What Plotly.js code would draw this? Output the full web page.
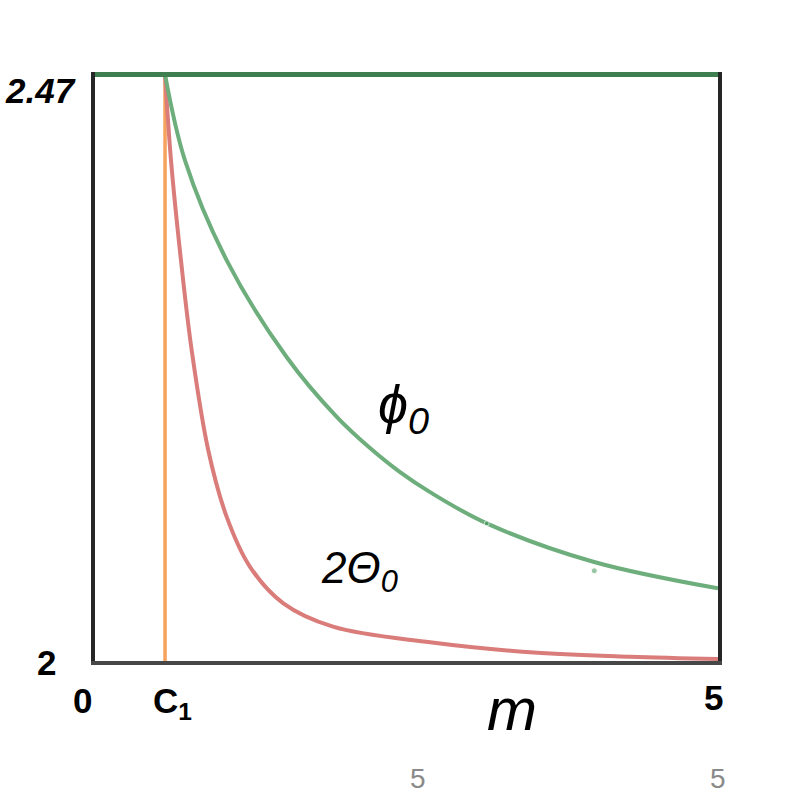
<!DOCTYPE html>
<html>
<head>
<meta charset="utf-8">
<script src="https://cdn.plot.ly/plotly-3.0.1.min.js"></script>
<style>
  html, body { margin: 0; padding: 0; background: #fff; }
  #chart { width: 800px; height: 800px; }
</style>
</head>
<body>
<div id="chart"></div>
<script>
// values
const c1 = 0.562;
const yTop = 2.47;

const phiM = [0.562, 0.722, 1.057, 1.539, 1.940, 2.207, 2.448, 2.689, 3.144, 3.999, 5.0];
const phiY = [2.470, 2.4012, 2.3211, 2.2434, 2.1956, 2.1706, 2.1513, 2.1353, 2.1103, 2.0795, 2.0582];

const thetaM = [0.562, 0.610, 0.690, 0.776, 0.909, 1.057, 1.244, 1.509, 1.910, 2.689, 3.491, 4.294, 5.0];
const thetaY = [2.470, 2.4012, 2.3211, 2.2490, 2.1689, 2.1155, 2.0755, 2.0464, 2.0275, 2.0150, 2.0070, 2.0034, 2.0016];

const topM = [0, 5];
const topY = [yTop, yTop];

const c1M = [c1, c1];
const c1Y = [2, yTop];

// small stray dots on the green curve
const strayM = [4.007, 3.144];
const strayY = [2.0723, 2.1103];

const xTickVals = [0, c1, 5];
const xTickText = ["0", "C<sub>1</sub>", "5"];
const yTickVals = [2, yTop];
const yTickText = ["2", "2.47"];

const font = "Liberation Sans, Arial, DejaVu Sans, sans-serif";

const traces = [
  { x: c1M, y: c1Y, mode: "lines", line: { color: "#f7a25c", width: 3.5 }, hoverinfo: "skip" },
  { x: thetaM, y: thetaY, mode: "lines", line: { color: "#d97c7a", width: 4, shape: "spline", smoothing: 1 } },
  { x: phiM, y: phiY, mode: "lines", line: { color: "#6dae7c", width: 4, shape: "spline", smoothing: 1 } },
  { x: topM, y: topY, mode: "lines", line: { color: "#3f7f4f", width: 5 }, hoverinfo: "skip" },
  { x: strayM, y: strayY, mode: "markers", marker: { color: ["#6dae7c", "#4f9a60"], size: [6, 5] }, hoverinfo: "skip" },
];

// tick labels drawn as annotations so each can keep its own style
const shiftX = [-13, 7, -5];
const shiftY = [-39, -42, -36];
const annotations = [];
xTickVals.forEach((v, i) => {
  annotations.push({
    x: v, xref: "x", y: 0, yref: "paper", text: xTickText[i], showarrow: false,
    xanchor: "center", yanchor: "middle", xshift: shiftX[i], yshift: shiftY[i],
    font: { family: font, size: 35, color: "#000", weight: "bold" },
  });
});
const yStyles = [
  { xshift: -37, yshift: -1, style: "normal" },
  { xshift: -17, yshift: -16, style: "italic" },
];
yTickVals.forEach((v, i) => {
  annotations.push({
    x: 0, xref: "paper", y: v, yref: "y", text: yTickText[i], showarrow: false,
    xanchor: "right", yanchor: "middle", xshift: yStyles[i].xshift, yshift: yStyles[i].yshift,
    font: { family: font, size: 35, color: "#000", weight: "bold", style: yStyles[i].style },
  });
});

// axis name and curve labels
annotations.push(
  { x: 0.669, xref: "paper", y: -0.082, yref: "paper", text: "m", showarrow: false,
    xanchor: "center", yanchor: "middle",
    font: { family: font, size: 60, color: "#000", style: "italic" } },
  { x: 0.495, xref: "paper", y: 0.43, yref: "paper", text: "ϕ<sub>0</sub>", showarrow: false,
    xanchor: "center", yanchor: "middle",
    font: { family: font, size: 54, color: "#000", style: "italic" } },
  { x: 0.425, xref: "paper", y: 0.153, yref: "paper", text: "2Θ<sub>0</sub>", showarrow: false,
    xanchor: "center", yanchor: "middle",
    font: { family: font, size: 44, color: "#000", style: "italic" } },
  { x: 0.518, xref: "paper", y: -0.2, yref: "paper", text: "5", showarrow: false,
    xanchor: "center", yanchor: "middle",
    font: { family: font, size: 28, color: "#8a8a8a" } },
  { x: 1.0, xref: "paper", y: -0.2, yref: "paper", text: "5", showarrow: false,
    xanchor: "center", yanchor: "middle",
    font: { family: font, size: 28, color: "#8a8a8a" } }
);

const layout = {
  width: 800,
  height: 800,
  margin: { l: 95, r: 82, t: 72, b: 139 },
  paper_bgcolor: "#fff",
  plot_bgcolor: "#fff",
  showlegend: false,
  xaxis: {
    range: [0, 5], showgrid: false, zeroline: false, showticklabels: false, ticks: "",
    showline: true, linecolor: "#474747", linewidth: 4, mirror: false,
  },
  yaxis: {
    range: [2, 2.472], showgrid: false, zeroline: false, showticklabels: false, ticks: "",
    showline: true, linecolor: "#262626", linewidth: 4, mirror: true,
  },
  annotations: annotations,
};

Plotly.newPlot("chart", traces, layout, { displayModeBar: false, staticPlot: true });
</script>
</body>
</html>
